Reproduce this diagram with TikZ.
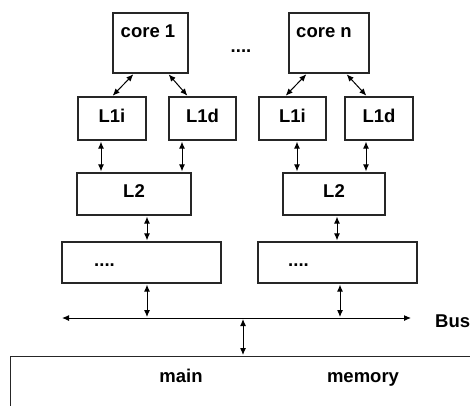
\documentclass[tikz,border=0pt]{standalone}
\usepackage{fontspec}
\setmainfont{Liberation Sans}
\usetikzlibrary{arrows.meta,positioning}
\begin{document}
\begin{tikzpicture}[x=1pt,y=-1pt,
  box/.style={draw,line width=1.2pt,draw=black!85,inner sep=0pt,text height=10pt,text depth=3pt},
  txt/.style={font=\fontsize{18.5}{21}\selectfont\bfseries,inner sep=0pt},
  arr/.style={{Latex[length=7pt,width=6pt]}-{Latex[length=7pt,width=6pt]},line width=1pt,shorten <=1pt,shorten >=1pt}]
\clip (0,0) rectangle (470,405);
% cores
\node [box,minimum width=75pt,minimum height=60pt] (core1) at (150.5,43) {};
\node [txt,anchor=base] (core1t) at (148,37) {core 1};
\node [box,minimum width=80pt,minimum height=60pt] (coren) at (329,43) {};
\node [txt,anchor=base] (corent) at (324,37) {core n};
\node [txt,anchor=base] (cdots) at (241,52) {....};
% L1 caches
\node [box,minimum width=68pt,minimum height=43pt,txt] (l1iL) at (112,118.5) {L1i};
\node [box,minimum width=67pt,minimum height=43pt,txt] (l1dL) at (202.5,118.5) {L1d};
\node [box,minimum width=67pt,minimum height=43pt,txt] (l1iR) at (292.5,118.5) {L1i};
\node [box,minimum width=68pt,minimum height=43pt,txt] (l1dR) at (379,118.5) {L1d};
% L2 caches
\node [box,minimum width=114pt,minimum height=42pt,txt] (l2L) at (134,194) {L2};
\node [box,minimum width=102pt,minimum height=42pt,txt] (l2R) at (334,194) {L2};
% further levels
\node [box,minimum width=159pt,minimum height=41pt] (lnL) at (141.5,262.5) {};
\node [txt,anchor=base] (lnLt) at (104.5,266) {....};
\node [box,minimum width=159pt,minimum height=41pt] (lnR) at (337.5,262.5) {};
\node [txt,anchor=base] (lnRt) at (298.5,266) {....};
% bus and memory
\coordinate (busL) at (62,318);
\coordinate (busR) at (411,318);
\coordinate (memtap) at (243,318);
\node [txt,anchor=base west] (bus) at (435,327) {Bus};
\node [box,minimum width=480pt,minimum height=70pt,anchor=north west] (mem) at (10,356) {};
\node [txt,anchor=base] (main) at (181,382) {main};
\node [txt,anchor=base] (memory) at (363,382) {memory};
% connections
\draw [arr] ([xshift=-16.5pt]core1.south) -- (l1iL.north);
\draw [arr] ([xshift=17.5pt]core1.south) -- ([xshift=-14.5pt]l1dL.north);
\draw [arr] ([xshift=-22pt]coren.south) -- ([xshift=-7.5pt]l1iR.north);
\draw [arr] ([xshift=17pt]coren.south) -- ([xshift=-12pt]l1dR.north);
\draw [arr] ([xshift=-11pt]l1iL.south) -- ([xshift=-11pt]l1iL.south |- l2L.north);
\draw [arr] ([xshift=-20.5pt]l1dL.south) -- ([xshift=-20.5pt]l1dL.south |- l2L.north);
\draw [arr] ([xshift=4.5pt]l1iR.south) -- ([xshift=4.5pt]l1iR.south |- l2R.north);
\draw [arr] ([xshift=-13pt]l1dR.south) -- ([xshift=-13pt]l1dR.south |- l2R.north);
\draw [arr] ([xshift=13pt]l2L.south) -- ([xshift=13pt]l2L.south |- lnL.north);
\draw [arr] ([xshift=3pt]l2R.south) -- ([xshift=3pt]l2R.south |- lnR.north);
\draw [arr] ([xshift=5.5pt]lnL.south) -- ([xshift=5.5pt]lnL.south |- busL);
\draw [arr] ([xshift=2.5pt]lnR.south) -- ([xshift=2.5pt]lnR.south |- busL);
\draw [arr,shorten <=0pt,shorten >=0pt] (busL) -- (busR);
\draw [arr] (memtap) -- (memtap |- mem.north);
\end{tikzpicture}
\end{document}
